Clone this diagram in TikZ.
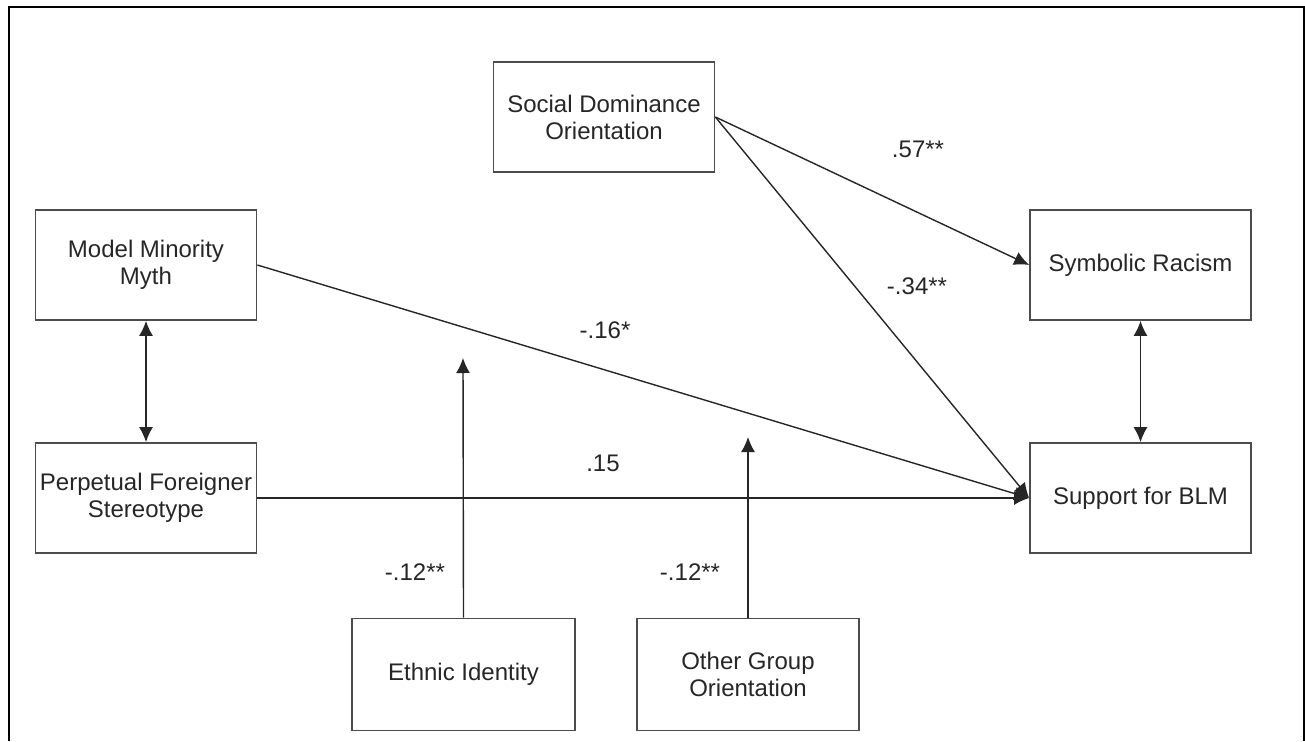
\documentclass[tikz,border=0pt]{standalone}
\usepackage{fontspec}
\setmainfont{Liberation Sans}
\usetikzlibrary{arrows.meta}
\begin{document}
\begin{tikzpicture}[x=1pt,y=-1pt,
  box/.style={draw=black!70,line width=1.7pt,minimum width=221pt,minimum height=110pt,
    inner sep=0pt,align=center,font=\fontsize{24}{27}\selectfont,text=black!85},
  lbl/.style={font=\fontsize{24}{27}\selectfont,text=black!85,inner sep=0pt},
  conn/.style={draw=black!85,line width=1.4pt},
  tip/.style={-{Latex[length=15pt,width=14pt]}},
  dtip/.style={{Latex[length=15pt,width=14pt]}-{Latex[length=15pt,width=14pt]}}]
\useasboundingbox (0,0) rectangle (1305,741);
\draw[line width=2pt] (8.7,741) -- (8.7,6.7) -- (1304,6.7) -- (1304,741);
% boxes
\node[box] (sdo) at (604,117) {Social Dominance\\Orientation};
\node[box] (mmm) at (146,265) {Model Minority\\Myth};
\node[box] (pfs) at (146,498) {Perpetual Foreigner\\Stereotype};
\node[box] (sr)  at (1140.5,265) {Symbolic Racism};
\node[box] (blm) at (1140.5,498) {Support for BLM};
\node[box,minimum width=223pt,minimum height=112pt] (ei) at (463.5,674.5) {Ethnic Identity};
\node[box,minimum width=222pt,minimum height=112pt] (ogo) at (748,674.5) {Other Group\\Orientation};
% free ends
\coordinate (eitip) at (463,358);
\coordinate (ogotip) at (748,437);
% connectors
\draw[conn,tip] (sdo.east) -- (sr.west);
\draw[conn,tip] (sdo.east) -- (blm.west);
\draw[conn,tip] (mmm.east) -- (blm.west);
\draw[conn,tip] (pfs.east) -- (blm.west);
\draw[conn,dtip] (mmm.south) -- (pfs.north);
\draw[conn,dtip] (sr.south) -- (blm.north);
\draw[conn,tip] (ei.north) -- (eitip);
\draw[conn,tip] (ogo.north) -- (ogotip);
% labels
\node[lbl] (l57) at (918,149) {.57**};
\node[lbl] (l34) at (917,286) {-.34**};
\node[lbl] (l16) at (605,330) {-.16*};
\node[lbl] (l15) at (603,463) {.15};
\node[lbl] (l12a) at (415,572) {-.12**};
\node[lbl] (l12b) at (690,572) {-.12**};
\end{tikzpicture}
\end{document}
